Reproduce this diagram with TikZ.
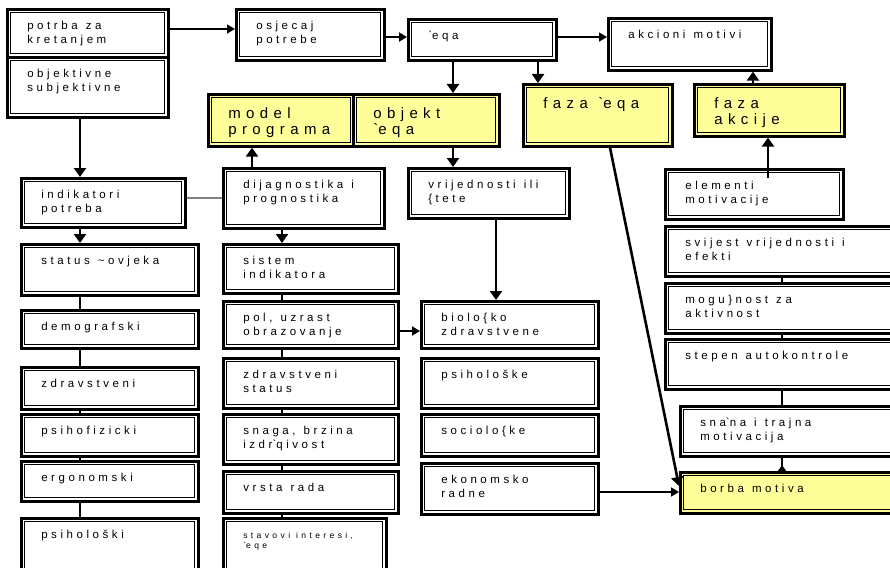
\documentclass[tikz,border=0pt]{standalone}
\usepackage{fontspec}
\setmainfont{Liberation Sans}[LetterSpace=31]
\newfontfamily\bigsp{Liberation Sans}[LetterSpace=36]
\newfontfamily\smallsp{Liberation Sans}[LetterSpace=40]
\usetikzlibrary{arrows.meta,calc}
\definecolor{boxyellow}{HTML}{FFFF99}
\definecolor{linkgray}{HTML}{808080}
\DeclareRobustCommand\txtnorm{\fontsize{11.5}{14}\selectfont}
\DeclareRobustCommand\txtbig{\bigsp\fontsize{15}{16}\selectfont}
\DeclareRobustCommand\txtsmall{\smallsp\fontsize{8.5}{10}\selectfont}
\newcommand\wordgap{\spaceskip=0.7em\relax}

\begin{document}
\begin{tikzpicture}[x=1pt, y=-1pt,
    frame/.style={draw, line width=2.6pt, anchor=north west, inner xsep=20pt, inner ysep=0pt, align=left,
      execute at begin node=\wordgap,
      path picture={\draw[line width=0.9pt] ([shift={(3.6pt,-3.6pt)}]path picture bounding box.north west)
        rectangle ([shift={(-3.6pt,3.6pt)}]path picture bounding box.south east);}},
    box/.style 2 args={frame, font=\txtnorm,
      /utils/exec={\pgfmathsetlengthmacro\boxtw{#1-40}\pgfmathsetlengthmacro\boxtd{#2-20}},
      text width=\boxtw, text height=20pt, text depth=\boxtd},
    hot/.style 2 args={frame, fill=boxyellow, font=\txtbig,
      /utils/exec={\pgfmathsetlengthmacro\boxtw{#1-40}\pgfmathsetlengthmacro\boxtd{#2-24}},
      text width=\boxtw, text height=24pt, text depth=\boxtd},
    arr/.style={-{Triangle[width=12pt,length=9pt]}, line width=2.6pt},
    arrthin/.style={-{Triangle[width=9pt,length=8pt]}, line width=1.5pt},
    lnk/.style={line width=1.2pt}
    ]
  \useasboundingbox (0,0) rectangle (890,567);
  \clip (0,0) rectangle (890,567);
  \fill[white] (0,0) rectangle (890,567);

  % top row
  \node[box={161}{48}] (potrba) at (6,8) {potrba za\\kretanjem};
  \node[box={161}{60}] (objektivne) at (6,56) {objektivne\\subjektivne};
  \node[box={148}{51}] (osjecaj) at (235,8) {osjecaj\\potrebe};
  \node[box={148}{41}] (eqa) at (407,18) {\textasciigrave eqa};
  \node[box={163}{52}] (akcioni) at (607,17) {akcioni motivi};

  \node[hot={146}{52}] (model) at (207,93) {model\\programa};
  \node[hot={146}{52}] (objekt) at (352,93) {objekt\\\textasciigrave eqa};
  \node[hot={149}{62}] (fazaeqa) at (522,83) {faza \textasciigrave eqa};
  \node[hot={150}{52}] (fazaakc) at (693,83) {faza\\akcije};

  % column 1
  \node[box={164}{49}] (indikatori) at (20,177) {indikatori\\potreba};
  \node[box={177}{51}] (status) at (20,243) {status \textasciitilde ovjeka};
  \node[box={177}{38}] (demograf) at (20,309) {demografski};
  \node[box={177}{42}] (zdravst) at (20,366) {zdravstveni};
  \node[box={177}{42}] (psihofiz) at (20,413) {psihofizicki};
  \node[box={177}{40}] (ergonom) at (20,460) {ergonomski};
  \node[box={177}{60}] (psiholoski) at (20,517) {psihološki};

  % column 2
  \node[box={161}{60}] (dijag) at (222,167) {dijagnostika i\\prognostika};
  \node[box={175}{49}] (sistem) at (222,243) {sistem\\indikatora};
  \node[box={175}{47}] (pol) at (222,300) {pol, uzrast\\obrazovanje};
  \node[box={175}{50}] (zdrstatus) at (222,357) {zdravstveni\\status};
  \node[box={175}{50}] (snaga) at (222,413) {snaga, brzina\\izdr\textasciigrave qivost};
  \node[box={175}{42}] (vrsta) at (222,470) {vrsta rada};
  \node[box={163}{60}, font=\txtsmall] (stavovi) at (222,517) {stavovi interesi,\\\textasciigrave eqe};

  % column 3
  \node[box={161}{50}] (vrij) at (407,167) {vrijednosti ili\\\{tete};
  \node[box={177}{47}] (biolo) at (420,300) {biolo\{ko\\zdravstvene};
  \node[box={177}{50}] (psiholoske) at (420,357) {psihološke};
  \node[box={177}{42}] (sociolo) at (420,413) {sociolo\{ke};
  \node[box={177}{51}] (ekonom) at (420,462) {ekonomsko\\radne};

  % column 4
  \node[box={178}{50}] (elementi) at (664,168) {elementi\\motivacije};
  \node[box={240}{50}] (svijest) at (664,225) {svijest vrijednosti i\\efekti};
  \node[box={240}{50}] (mogucnost) at (664,282) {mogu\}nost za\\aktivnost};
  \node[box={240}{50}] (stepen) at (664,338) {stepen autokontrole};
  \node[box={225}{50}] (snazna) at (679,405) {sna\textasciigrave na i trajna\\motivacija};
  \node[box={225}{41}, fill=boxyellow] (borba) at (679,471) {borba motiva};

  \coordinate (elemtop) at (768,178);

  \draw[arrthin] (potrba.east |- 0,29) -- (osjecaj.west |- 0,29);
  \draw[arrthin, line width=2pt] (osjecaj.east |- 0,37) -- (eqa.west |- 0,37);
  \draw[arrthin] (eqa.east |- 0,37) -- (akcioni.west |- 0,37);
  \draw[arr] (eqa.south -| 453,0) -- (objekt.north -| 453,0);
  \draw[arr] (eqa.south -| 538,0) -- (fazaeqa.north -| 538,0);
  \draw[arr] (fazaakc.north -| 753,0) -- (akcioni.south -| 753,0);
  \draw[arr] (elemtop) -- (fazaakc.south -| elemtop);
  \draw[arr] (dijag.north -| 252,0) -- (model.south -| 252,0);
  \draw[arr] (objekt.south -| 453,0) -- (vrij.north -| 453,0);
  \draw[arr] (objektivne.south -| 80,0) -- (indikatori.north -| 80,0);
  \draw[arr] (indikatori.south -| 80,0) -- (status.north -| 80,0);
  \draw[arr] (dijag.south -| 282,0) -- (sistem.north -| 282,0);
  \draw[lnk, linkgray] (indikatori.east |- 0,198) -- (dijag.west |- 0,198);
  \draw[arr] (vrij.south -| 496,0) -- (biolo.north -| 496,0);
  \draw[arrthin, line width=2pt] (pol.east |- 0,331) -- (biolo.west |- 0,331);
  \draw[arr] (fazaeqa.south -| 610,0) -- (borba.west |- 0,486);
  \draw[arrthin] (ekonom.east |- 0,492) -- (borba.west |- 0,492);
  \draw[lnk, -{Triangle[reversed,width=8pt,length=6pt]}] (snazna.south -| 782,0) -- (borba.north -| 782,0);

  \foreach \a/\b in {status/demograf, demograf/zdravst, zdravst/psihofiz, psihofiz/ergonom, ergonom/psiholoski}
    \draw[lnk] (\a.south -| 80,0) -- (\b.north -| 80,0);
  \foreach \a/\b in {sistem/pol, pol/zdrstatus, zdrstatus/snaga, snaga/vrsta, vrsta/stavovi}
    \draw[lnk] (\a.south -| 282,0) -- (\b.north -| 282,0);
  \foreach \a/\b in {svijest/mogucnost, mogucnost/stepen, stepen/snazna}
    \draw[lnk] (\a.south -| 782,0) -- (\b.north -| 782,0);
\end{tikzpicture}
\end{document}
